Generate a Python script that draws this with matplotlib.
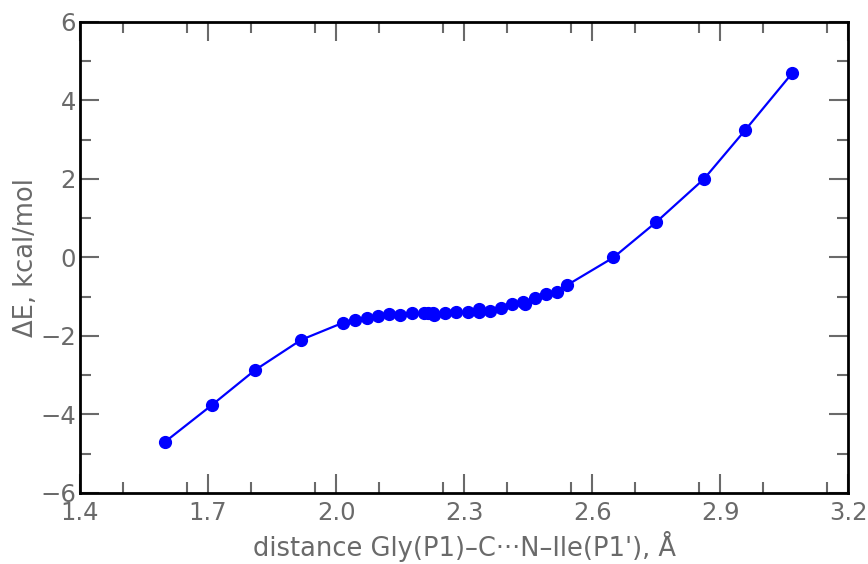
import numpy as np
import matplotlib
matplotlib.use('Agg')
import matplotlib.pyplot as plt
from matplotlib.ticker import MultipleLocator

# scan of the C...N distance, energy relative to the reference point
distance = [1.599, 1.709, 1.810, 1.918, 2.017, 2.045, 2.072, 2.099, 2.125, 2.150,
            2.177, 2.205, 2.216, 2.228, 2.230, 2.255, 2.281, 2.308, 2.334, 2.335,
            2.361, 2.387, 2.412, 2.439, 2.443, 2.466, 2.492, 2.517, 2.542, 2.650,
            2.750, 2.862, 2.959, 3.069]
energy = [-4.70, -3.76, -2.87, -2.10, -1.66, -1.60, -1.53, -1.50, -1.44, -1.47,
          -1.42, -1.42, -1.41, -1.42, -1.46, -1.42, -1.40, -1.38, -1.32, -1.40,
          -1.36, -1.30, -1.19, -1.13, -1.19, -1.04, -0.93, -0.87, -0.70, 0.00,
          0.90, 2.00, 3.25, 4.70]

xticks = [1.4, 1.7, 2.0, 2.3, 2.6, 2.9, 3.2]
yticks = [-6, -4, -2, 0, 2, 4, 6]

grey = '#6a6a6a'

fig = plt.figure(figsize=(8.68, 5.64), dpi=100)
ax = fig.add_axes([0.0922, 0.126, 0.885, 0.835])

ax.plot(distance, energy, '-o', color='#0000ff', linewidth=1.6, markersize=8.5)

ax.set_xlim(1.4, 3.2)
ax.set_ylim(-6, 6)
ax.set_xticks(xticks)
ax.set_xticklabels([f'{t:.1f}' for t in xticks])
ax.set_yticks(yticks)
ax.set_yticklabels([f'{t}'.replace('-', '\u2212') for t in yticks])
ax.xaxis.set_minor_locator(MultipleLocator(0.15))
ax.yaxis.set_minor_locator(MultipleLocator(1))

ax.tick_params(which='both', direction='in', top=True, right=True,
               color=grey, width=1.5, labelcolor=grey, labelsize=17.5)
ax.tick_params(axis='x', which='both', pad=6)
ax.tick_params(axis='y', which='both', pad=3)
ax.tick_params(which='major', length=14)
ax.tick_params(which='minor', length=8)
for sp in ax.spines.values():
    sp.set_linewidth(2)
    sp.set_color('black')

ax.set_xlabel("distance Gly(P1)\u2013C\u00b7\u00b7\u00b7N\u2013Ile(P1'), \u00c5",
              fontsize=18.5, color=grey, labelpad=4)
ax.set_ylabel('\u0394E, kcal/mol', fontsize=18.5, color=grey, labelpad=0.5)

fig.savefig('out.png', dpi=100, facecolor='white')
